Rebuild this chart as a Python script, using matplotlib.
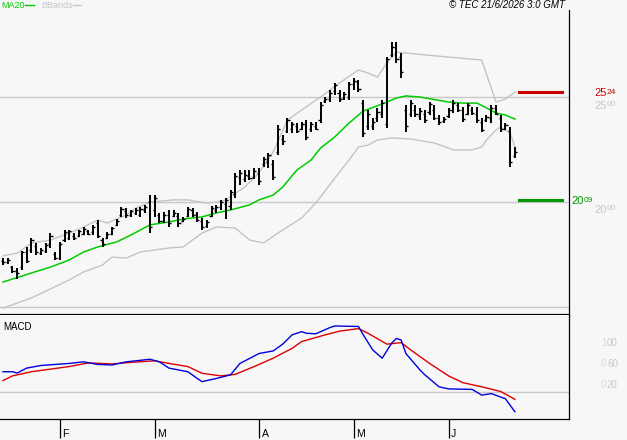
import matplotlib
matplotlib.use("Agg")
import matplotlib.pyplot as plt
import matplotlib.transforms as mtransforms
from matplotlib.lines import Line2D

plt.rcParams['font.family'] = ['Liberation Sans', 'DejaVu Sans']

# daily OHLC bars
highs = [1733, 1733, 1695, 1686, 1767, 1786, 1829, 1805, 1781, 1805, 1852, 1762, 1810, 1867, 1867, 1852, 1867, 1881, 1867, 1891,
         1914, 1829, 1857, 1881, 1919, 1976, 1971, 1962, 1971, 1976, 1986, 2033, 2033, 1948, 1952, 1962, 1962, 1948, 1929, 1976,
         1971, 1952, 1924, 1914, 1981, 1986, 2010, 2019, 2057, 2138, 2152, 2152, 2152, 2162, 2162, 2214, 2233, 2200, 2367, 2319,
         2400, 2381, 2376, 2381, 2391, 2381, 2381, 2476, 2500, 2533, 2567, 2533, 2524, 2572, 2591, 2581, 2486, 2438, 2400, 2448,
         2486, 2691, 2762, 2762, 2710, 2462, 2486, 2462, 2448, 2438, 2476, 2462, 2414, 2405, 2448, 2486, 2472, 2452, 2472, 2452,
         2452, 2400, 2414, 2462, 2462, 2414, 2376, 2357, 2262]
lows = [1700, 1705, 1662, 1633, 1676, 1710, 1757, 1748, 1748, 1757, 1781, 1724, 1724, 1810, 1819, 1819, 1833, 1843, 1843, 1843,
        1829, 1786, 1824, 1843, 1886, 1929, 1924, 1929, 1938, 1929, 1948, 1852, 1929, 1900, 1900, 1881, 1929, 1881, 1905, 1929,
        1929, 1905, 1867, 1876, 1929, 1948, 1962, 1919, 1962, 2019, 2081, 2095, 2105, 2110, 2081, 2167, 2162, 2105, 2224, 2272,
        2329, 2329, 2329, 2343, 2295, 2333, 2343, 2376, 2472, 2476, 2510, 2476, 2486, 2486, 2533, 2524, 2310, 2343, 2343, 2381,
        2400, 2352, 2691, 2662, 2591, 2333, 2405, 2405, 2391, 2376, 2414, 2391, 2367, 2376, 2400, 2424, 2429, 2381, 2414, 2414,
        2376, 2333, 2381, 2376, 2414, 2333, 2343, 2167, 2210]
opens = [1720, 1712, 1690, 1670, 1690, 1760, 1770, 1790, 1755, 1765, 1800, 1750, 1735, 1820, 1830, 1840, 1840, 1850, 1860, 1855,
         1900, 1820, 1830, 1850, 1890, 1940, 1955, 1940, 1950, 1940, 1960, 2000, 1960, 1940, 1910, 1940, 1935, 1935, 1910, 1935,
         1960, 1945, 1910, 1885, 1935, 1960, 1975, 1990, 1980, 2040, 2120, 2110, 2125, 2120, 2140, 2180, 2190, 2180, 2240, 2300,
         2340, 2350, 2360, 2350, 2370, 2350, 2360, 2390, 2480, 2490, 2530, 2520, 2495, 2500, 2560, 2570, 2470, 2360, 2360, 2400,
         2420, 2370, 2700, 2740, 2690, 2440, 2420, 2440, 2410, 2420, 2430, 2440, 2400, 2385, 2410, 2440, 2460, 2440, 2420, 2440,
         2420, 2380, 2390, 2400, 2450, 2400, 2350, 2340, 2220]
closes = [1712, 1722, 1670, 1660, 1760, 1720, 1820, 1760, 1770, 1795, 1840, 1735, 1800, 1855, 1860, 1830, 1860, 1870, 1850, 1880,
          1840, 1800, 1850, 1875, 1910, 1965, 1940, 1955, 1960, 1965, 1975, 1880, 2020, 1910, 1940, 1900, 1950, 1900, 1920, 1965,
          1940, 1915, 1880, 1905, 1970, 1975, 2000, 2010, 2050, 2125, 2140, 2130, 2115, 2150, 2100, 2205, 2225, 2120, 2350, 2290,
          2390, 2370, 2340, 2370, 2310, 2370, 2350, 2460, 2490, 2520, 2555, 2490, 2515, 2560, 2575, 2540, 2330, 2420, 2380, 2430,
          2470, 2680, 2740, 2680, 2620, 2360, 2470, 2420, 2435, 2390, 2465, 2400, 2380, 2395, 2440, 2470, 2440, 2395, 2460, 2425,
          2390, 2345, 2405, 2450, 2420, 2350, 2365, 2190, 2240]

# MA20 and Bollinger bands, sampled at bar indices
ma_idx = [0, 6, 10, 14, 17, 20, 24, 27, 31, 35, 38, 42, 45, 48, 52, 54, 57, 59, 62, 65, 67, 70, 73, 76, 80, 83, 85, 88, 94, 97,
          100, 102, 104, 106, 108]
ma_val = [1619, 1662, 1690, 1724, 1762, 1786, 1810, 1843, 1891, 1905, 1919, 1929, 1948, 1962, 1986, 2010, 2033, 2071, 2152, 2200,
          2257, 2310, 2376, 2433, 2467, 2495, 2505, 2500, 2476, 2471, 2471, 2448, 2424, 2414, 2395]
up_idx = [0, 3, 6, 10, 14, 17, 20, 22, 26, 28, 31, 36, 39, 43, 45, 47, 51, 54, 57, 60, 63, 67, 71, 75, 77, 79, 81, 83, 94, 101,
          104, 106, 108]
up_val = [1743, 1757, 1805, 1819, 1852, 1881, 1914, 1900, 1938, 1971, 2000, 2010, 2010, 1995, 2000, 2010, 2071, 2138, 2238, 2390,
          2438, 2500, 2567, 2629, 2614, 2595, 2662, 2714, 2690, 2676, 2476, 2490, 2524]
lo_idx = [0, 6, 14, 17, 21, 23, 26, 29, 35, 38, 42, 45, 49, 52, 55, 58, 63, 65, 67, 70, 73, 75, 77, 79, 82, 86, 91, 95, 99, 101,
          102, 104, 105, 107, 108]
lo_val = [1495, 1543, 1629, 1667, 1700, 1738, 1733, 1762, 1781, 1786, 1852, 1881, 1876, 1819, 1805, 1852, 1924, 1971, 2024, 2114,
          2200, 2262, 2271, 2295, 2305, 2300, 2281, 2248, 2248, 2262, 2295, 2343, 2357, 2329, 2262]

# MACD (blue) and signal (red)
macd_idx = [0, 2, 3, 5, 8, 14, 17, 20, 23, 26, 31, 33, 35, 39, 41, 42, 45, 48, 50, 54, 57, 59, 61, 63, 64, 66, 69, 70, 75, 76,
            78, 80, 82, 83, 84, 85, 88, 89, 92, 94, 99, 101, 103, 106, 108]
macd_val = [0.39, 0.39, 0.365, 0.46, 0.51, 0.55, 0.58, 0.53, 0.52, 0.58, 0.63, 0.58, 0.46, 0.39, 0.26, 0.20, 0.26, 0.33, 0.55,
            0.74, 0.79, 0.92, 1.10, 1.16, 1.13, 1.12, 1.24, 1.27, 1.26, 1.10, 0.81, 0.65, 0.94, 1.03, 1.00, 0.74, 0.42, 0.33,
            0.10, 0.06, 0.05, -0.06, -0.03, -0.13, -0.38]
sig_idx = [0, 2, 6, 10, 14, 18, 23, 27, 32, 35, 39, 42, 46, 49, 53, 57, 61, 63, 68, 71, 75, 77, 81, 84, 86, 90, 94, 97, 101, 105,
           108]
sig_val = [0.22, 0.31, 0.39, 0.44, 0.49, 0.56, 0.54, 0.57, 0.60, 0.55, 0.49, 0.36, 0.31, 0.34, 0.49, 0.65, 0.84, 0.97, 1.10, 1.17,
           1.22, 1.13, 0.92, 0.95, 0.81, 0.55, 0.31, 0.18, 0.10, 0.01, -0.14]

resist = 2524
support = 2009
month_idx = [12, 32, 54, 74, 94]
month_lab = ['F', 'M', 'A', 'M', 'J']

BG = '#f7f7f7'
GRID = '#c8c8c8'
fig = plt.figure(figsize=(6.27, 4.40), dpi=100, facecolor=BG)
ax = fig.add_axes([0, 125 / 440, 569 / 627, 305 / 440], facecolor=BG)
ax2 = fig.add_axes([0, 21 / 440, 569 / 627, 104 / 440], facecolor=BG)

x = list(range(len(highs)))
xl = (-0.633, 119.41)

# ---- price panel
for g in [1500, 2000, 2500]:
    ax.axhline(g, color=GRID, lw=1, zorder=1)
ax.plot(up_idx, up_val, color='#c4c4c4', lw=1, zorder=2)
ax.plot(lo_idx, lo_val, color='#c4c4c4', lw=1, zorder=2)
ax.plot(ma_idx, ma_val, color='#00cc00', lw=1.1, zorder=3)
ax.vlines(x, lows, highs, color='black', lw=1.4, zorder=4)
ax.hlines(opens, [i - 0.45 for i in x], x, color='black', lw=1, zorder=4)
ax.hlines(closes, x, [i + 0.45 for i in x], color='black', lw=1, zorder=4)
ax.axhline(resist, xmin=0.912, xmax=0.988, color='#cc0000', lw=2.2, zorder=5)
ax.axhline(support, xmin=0.912, xmax=0.988, color='#009900', lw=2.2, zorder=5)
ax.set_xlim(*xl)
ax.set_ylim(1461.9, 2914.3)
ax.set_xticks([])
ax.set_yticks([])
for s in ['left', 'top']:
    ax.spines[s].set_visible(False)
ax.spines['right'].set_linewidth(0.9)
ax.spines['bottom'].set_linewidth(1.6)

tr = mtransforms.blended_transform_factory(ax.transAxes, ax.transData)


def price_label(val, big, small, xb, xs, col, dy_big, dy_small):
    # big digits then smaller raised digits, baseline placed below the level
    t1 = mtransforms.offset_copy(tr, fig=fig, y=dy_big, units='dots')
    t2 = mtransforms.offset_copy(tr, fig=fig, y=dy_small, units='dots')
    ax.text(xb, val, big, transform=t1, va='baseline', ha='left', fontsize=8, color=col, clip_on=False)
    ax.text(xs, val, small, transform=t2, va='baseline', ha='left', fontsize=6, color=col, clip_on=False)


price_label(2500, '25', '00', 594 / 569, 607 / 569, GRID, -12, -9)
price_label(2000, '20', '00', 594 / 569, 607 / 569, GRID, -11, -8)
price_label(resist, '25', '24', 594 / 569, 607 / 569, '#cc0000', -4, -2)
price_label(support, '20', '09', 571 / 569, 584 / 569, '#009900', -4, -2)

# ---- MACD panel
ax2.axhline(0, color=GRID, lw=1, zorder=1)
ax2.plot(sig_idx, sig_val, color='#dd0000', lw=1, zorder=2)
ax2.plot(macd_idx, macd_val, color='#0000dd', lw=1, zorder=3)
ax2.set_xlim(*xl)
ax2.set_ylim(-0.519, 1.481)
ax2.set_yticks([])
ax2.set_xticks(month_idx)
ax2.tick_params(axis='x', length=13.5, width=0.9, direction='out', labelbottom=False, color='black')
for s in ['left', 'top']:
    ax2.spines[s].set_visible(False)
ax2.spines['right'].set_linewidth(0.9)
ax2.spines['bottom'].set_linewidth(0.9)

trm = mtransforms.blended_transform_factory(ax2.transData, ax2.transAxes)
for i, lab in zip(month_idx, month_lab):
    ax2.text(i + 0.55, -0.14, lab, transform=trm, va='center', ha='left', fontsize=7.5, clip_on=False)

tr2 = mtransforms.offset_copy(mtransforms.blended_transform_factory(ax2.transAxes, ax2.transData),
                              fig=fig, y=-3, units='dots')
for v, a, b in [(1.0, '1', '00'), (0.6, '0', '60'), (0.2, '0', '20')]:
    ax2.text(601 / 569, v, a, transform=tr2, va='center', ha='left', fontsize=7, color='#d8d8d8', clip_on=False)
    ax2.text(607 / 569, v, b, transform=tr2, va='center', ha='left', fontsize=7, color=GRID, clip_on=False)

# ---- header texts
fig.text(1 / 627, 1 - 1 / 440, 'MA20', va='top', ha='left', fontsize=6.5, color='#00cc00')
fig.add_artist(Line2D([25 / 627, 34 / 627], [1 - 5 / 440] * 2, color='#00cc00', lw=1))
fig.text(41 / 627, 1 - 1 / 440, 'BBands', va='top', ha='left', fontsize=6.5, color=GRID)
fig.add_artist(Line2D([73 / 627, 81 / 627], [1 - 5 / 440] * 2, color=GRID, lw=1))
fig.text(449 / 627, 1 - 0.5 / 440, '\u00a9 TEC 21/6/2026 3:0 GMT', va='top', ha='left', fontsize=7, style='italic')
fig.text(3 / 627, 1 - 322 / 440, 'MACD', va='top', ha='left', fontsize=7)

fig.savefig('out.png', dpi=100, facecolor=BG)
